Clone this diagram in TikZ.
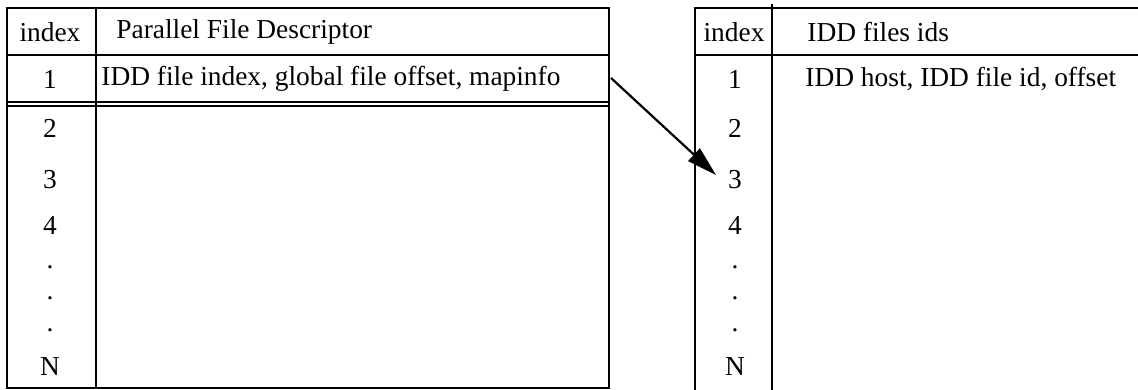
\documentclass[tikz,border=0pt]{standalone}
\usepackage{fontspec}
\setmainfont{Liberation Serif}
\usetikzlibrary{arrows.meta}
\tikzset{
  rule/.style={line width=1.1pt},
  cell/.style={inner sep=0pt, font=\fontsize{13.7}{16}\selectfont},
  entry/.style={cell, anchor=west},
}

\begin{document}
\begin{tikzpicture}[x=0.5pt, y=-0.5pt]
  \useasboundingbox (0,0) rectangle (1138,390);
  % descriptor table
  \draw[rule] (7,8) rectangle (609,388);
  \draw[rule] (96,8) -- (96,388);
  \draw[rule] (7,55) -- (609,55);
  \draw[rule] (7,102) -- (609,102);
  \draw[line width=0.8pt] (7,106) -- (609,106);
  \node[cell] (pidx) at (50,32) {index};
  \node[entry] (phead) at (116,32) {Parallel File Descriptor};
  \node[entry] (prow) at (101,79) {IDD file index, global file offset, mapinfo};
  \foreach \lbl/\y [count=\i] in {1/79,2/128,3/180,4/225,./267,./298,./330,N/367}
    \node[cell] (p\i) at (50,\y) {\lbl};
  % ids table
  \draw[rule] (1138,8) -- (695,8) -- (695,390);
  \draw[rule] (772,4) -- (772,390);
  \draw[rule] (695,55) -- (1138,55);
  \node[cell] (qidx) at (734,32) {index};
  \node[entry] (qhead) at (807,32) {IDD files ids};
  \node[entry] (qrow) at (805,79) {IDD host, IDD file id, offset};
  \foreach \lbl/\y [count=\i] in {1/79,2/128,3/180,4/225,./267,./298,./330,N/367}
    \node[cell] (q\i) at (735,\y) {\lbl};
  % pointer to the ids entry
  \coordinate (from) at (611,78);
  \coordinate (to) at (716,175);
  \draw[rule, -{Triangle[length=15pt,width=8.5pt]}] (from) -- (to);
\end{tikzpicture}
\end{document}
